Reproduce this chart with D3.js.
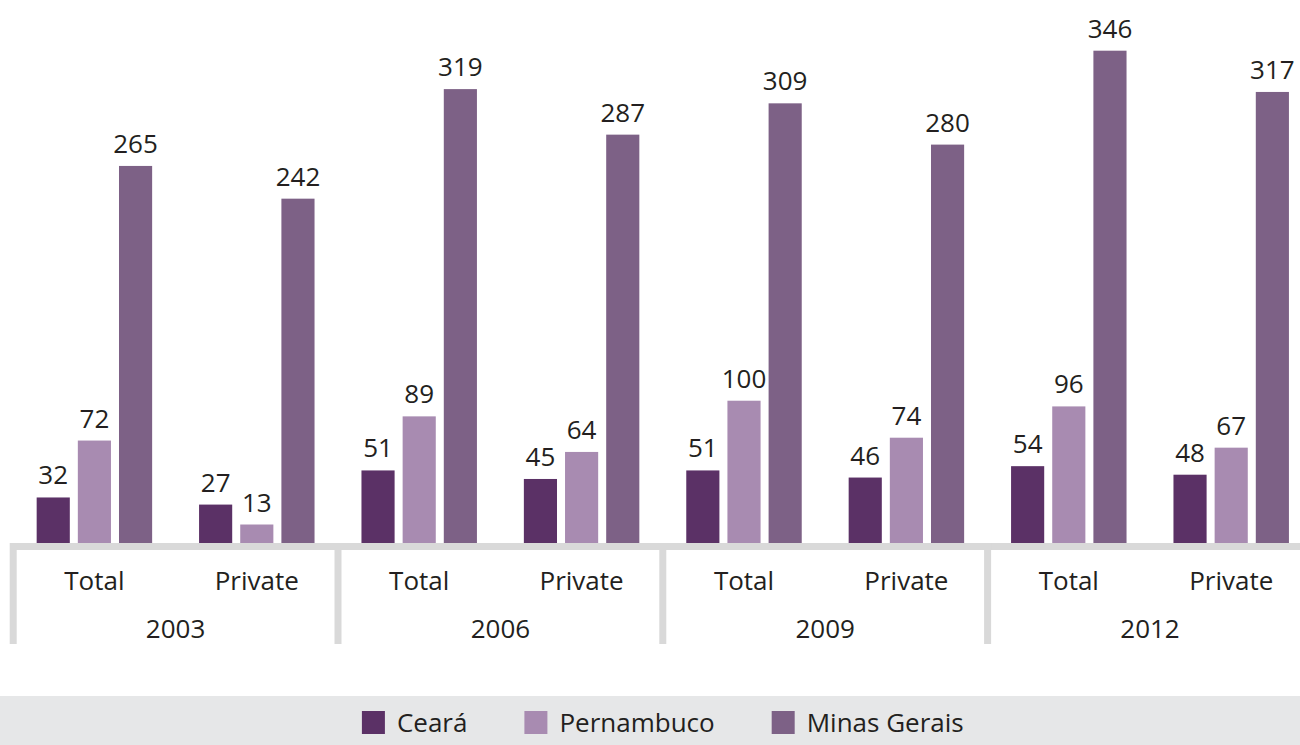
<!DOCTYPE html>
<html>
<head>
<meta charset="utf-8">
<script src="https://cdn.jsdelivr.net/npm/d3@7"></script>
<style>
  html, body { margin: 0; padding: 0; background: #ffffff; }
  svg { display: block; }
  text { font-family: "Open Sans", sans-serif; fill: #231f20; }
</style>
</head>
<body>
<svg id="chart" width="1300" height="745"></svg>
<script>
// Years, the two measures inside each year, and the three states
const years = ["2003", "2006", "2009", "2012"];
const measures = ["Total", "Private"];
const states = ["Ceará", "Pernambuco", "Minas Gerais"];
const colors = ["#5b3166", "#a88bb1", "#7d6186"];

// Values per state, ordered year by year as Total, Private
const cearaValues = [32, 27, 51, 45, 51, 46, 54, 48];
const pernambucoValues = [72, 13, 89, 64, 100, 74, 96, 67];
const minasValues = [265, 242, 319, 287, 309, 280, 346, 317];

const seriesValues = [cearaValues, pernambucoValues, minasValues];

// Flatten into rows for the bars
const rows = [];
years.forEach((yr, yi) => {
  measures.forEach((m, mi) => {
    states.forEach((s, si) => {
      rows.push({ year: yr, measure: m, state: s, si, value: seriesValues[si][yi * 2 + mi] });
    });
  });
});

const svg = d3.select("#chart");
const baseY = 543;
const groupW = 324.8;

const x0 = d3.scaleBand().domain(years).range([13.2, 13.2 + 4 * groupW]);
const x1 = d3.scaleBand().domain(measures).range([0, x0.bandwidth()]);
const x2 = d3.scaleBand().domain(states).range([0, x1.bandwidth()])
  .paddingInner(0.195).paddingOuter(0.57);
const y = d3.scaleLinear().domain([0, 350]).range([baseY, 45]);
const color = d3.scaleOrdinal().domain(states).range(colors);

// Bars
svg.append("g").selectAll("rect").data(rows).join("rect")
  .attr("x", d => x0(d.year) + x1(d.measure) + x2(d.state))
  .attr("y", d => y(d.value))
  .attr("width", x2.bandwidth())
  .attr("height", d => baseY - y(d.value))
  .attr("fill", d => color(d.state));

// Value labels
svg.append("g").selectAll("text").data(rows).join("text")
  .attr("x", d => x0(d.year) + x1(d.measure) + x2(d.state) + x2.bandwidth() / 2)
  .attr("y", d => y(d.value) - 13)
  .attr("text-anchor", "middle")
  .attr("font-size", 26)
  .text(d => d.value);

// Category axis: grey baseline band and year separators
const axis = svg.append("g");
axis.append("rect")
  .attr("x", 10).attr("y", baseY)
  .attr("width", 1300).attr("height", 7)
  .attr("fill", "#d9d9d9");
axis.selectAll("rect.sep").data(years.concat(["end"])).join("rect")
  .attr("class", "sep")
  .attr("x", (d, i) => x0.range()[0] + i * x0.bandwidth() - 3.5)
  .attr("y", baseY)
  .attr("width", 7)
  .attr("height", 644 - baseY)
  .attr("fill", "#d9d9d9");

// Measure labels
const measureCells = [];
years.forEach(yr => measures.forEach(m => measureCells.push({ year: yr, measure: m })));
axis.selectAll("text.measure").data(measureCells).join("text")
  .attr("class", "measure")
  .attr("x", d => x0(d.year) + x1(d.measure) + x1.bandwidth() / 2)
  .attr("y", 590)
  .attr("text-anchor", "middle")
  .attr("font-size", 26)
  .text(d => d.measure);

// Year labels
axis.selectAll("text.year").data(years).join("text")
  .attr("class", "year")
  .attr("x", d => x0(d) + x0.bandwidth() / 2)
  .attr("y", 638)
  .attr("text-anchor", "middle")
  .attr("font-size", 26)
  .text(d => d);

// Legend band
svg.append("rect")
  .attr("x", 0).attr("y", 696)
  .attr("width", 1300).attr("height", 49)
  .attr("fill", "#e6e7e8");

const legend = svg.append("g");
const items = legend.selectAll("g").data(states).join("g");
items.append("rect")
  .attr("width", 23).attr("height", 23)
  .attr("y", 711)
  .attr("fill", d => color(d));
items.append("text")
  .attr("x", 35)
  .attr("y", 732)
  .attr("font-size", 26)
  .text(d => d);

// Lay legend items out side by side, centred on the plot
const widths = [];
items.each(function () { widths.push(this.getBBox().width); });
const gap = 57;
const total = d3.sum(widths) + gap * (widths.length - 1);
let cx = (x0.range()[0] + x0.range()[1]) / 2 - total / 2;
items.each(function (d, i) {
  d3.select(this).attr("transform", `translate(${cx},0)`);
  cx += widths[i] + gap;
});
</script>
</body>
</html>
